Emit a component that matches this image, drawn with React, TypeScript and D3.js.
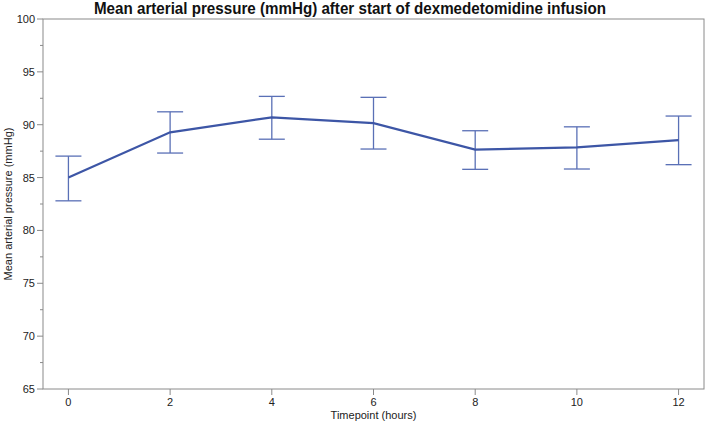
import React from "react";
import * as d3 from "d3";

const timepoints = [0, 2, 4, 6, 8, 10, 12];
const meanValues = [85.0, 89.28, 90.7, 90.15, 87.65, 87.85, 88.55];
const upperValues = [87.03, 91.22, 92.68, 92.59, 89.43, 89.8, 90.82];
const lowerValues = [82.8, 87.32, 88.63, 87.7, 85.78, 85.81, 86.22];
const xTicks = [0, 2, 4, 6, 8, 10, 12];
const yTicks = [65, 70, 75, 80, 85, 90, 95, 100];
const yMinorTicks = [67.5, 72.5, 77.5, 82.5, 87.5, 92.5, 97.5];

const W = 709;
const H = 424;
const M = { left: 43, right: 5, top: 19, bottom: 35 };

export default function App() {
  const x = d3.scaleLinear().domain([-0.5, 12.5]).range([M.left, W - M.right]);
  const y = d3.scaleLinear().domain([65, 100]).range([H - M.bottom, M.top]);
  const pts = timepoints.map((t, i) => [t, meanValues[i]] as [number, number]);
  const line = d3.line<[number, number]>().x((d) => x(d[0])).y((d) => y(d[1]));
  const font = "'Liberation Sans', Arial, Helvetica, sans-serif";
  const axisColor = "#8a8a8a";
  const lineColor = "#3d56a6";
  const barColor = "#5a70b6";
  const capHalf = 13;
  const x0 = M.left;
  const x1 = W - M.right;
  const y0 = H - M.bottom;
  const y1 = M.top;
  return (
    <svg width={W} height={H} style={{ position: "absolute", left: 0, top: 0 }} fontFamily={font}>
      <rect x={0} y={0} width={W} height={H} fill="#fff" />
      <text x={350} y={14} textAnchor="middle" fontSize={16} fontWeight="bold" fill="#111" textLength={512} lengthAdjust="spacingAndGlyphs">
        Mean arterial pressure (mmHg) after start of dexmedetomidine infusion
      </text>
      {/* frame */}
      <rect x={x0} y={y1} width={x1 - x0} height={y0 - y1} fill="none" stroke={axisColor} strokeWidth={1} />
      {/* y ticks */}
      {yTicks.map((v) => (
        <g key={"y" + v}>
          <line x1={x0 - 6} x2={x0} y1={y(v)} y2={y(v)} stroke={axisColor} />
          <text x={x0 - 8} y={y(v) + 4} textAnchor="end" fontSize={11} fill="#222">
            {v}
          </text>
        </g>
      ))}
      {yMinorTicks.map((v) => (
        <line key={"ym" + v} x1={x0 - 3} x2={x0} y1={y(v)} y2={y(v)} stroke={axisColor} />
      ))}
      {/* x ticks */}
      {xTicks.map((v) => (
        <g key={"x" + v}>
          <line x1={x(v)} x2={x(v)} y1={y0} y2={y0 + 6} stroke={axisColor} />
          <text x={x(v)} y={y0 + 17} textAnchor="middle" fontSize={11} fill="#222">
            {v}
          </text>
        </g>
      ))}
      <text x={(x0 + x1) / 2} y={y0 + 30} textAnchor="middle" fontSize={11} fill="#222">
        Timepoint (hours)
      </text>
      <text transform={`translate(12, ${(y0 + y1) / 2}) rotate(-90)`} textAnchor="middle" fontSize={11} fill="#222">
        Mean arterial pressure (mmHg)
      </text>
      {/* error bars */}
      {timepoints.map((t, i) => (
        <g key={"e" + t} stroke={barColor} strokeWidth={1.3}>
          <line x1={x(t)} x2={x(t)} y1={y(upperValues[i])} y2={y(lowerValues[i])} />
          <line x1={x(t) - capHalf} x2={x(t) + capHalf} y1={y(upperValues[i])} y2={y(upperValues[i])} />
          <line x1={x(t) - capHalf} x2={x(t) + capHalf} y1={y(lowerValues[i])} y2={y(lowerValues[i])} />
        </g>
      ))}
      <path d={line(pts) || ""} fill="none" stroke={lineColor} strokeWidth={2.2} />
    </svg>
  );
}
